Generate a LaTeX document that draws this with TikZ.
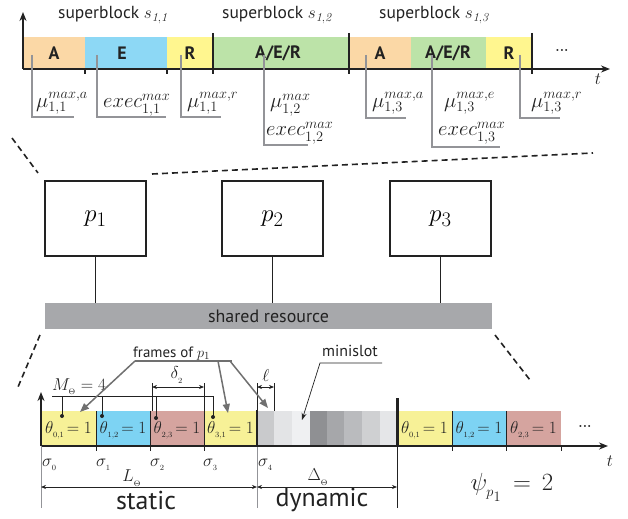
\documentclass[tikz,border=0pt]{standalone}
\usepackage{fontspec}
\newfontfamily\mysans{PT Sans}
\usetikzlibrary{arrows.meta}
\definecolor{cA}{HTML}{FBD8A6}
\definecolor{cE}{HTML}{8DD8F5}
\definecolor{cR}{HTML}{FFF68F}
\definecolor{cG}{HTML}{BCE3A8}
\definecolor{cY}{HTML}{F7F197}
\definecolor{cB}{HTML}{7DD3F3}
\definecolor{cP}{HTML}{D5A49F}
\definecolor{cBar}{HTML}{A7A8AB}
\definecolor{cLab}{HTML}{939498}
\definecolor{cArr}{HTML}{707070}
\definecolor{cDark}{HTML}{222222}
\definecolor{m1}{HTML}{C9CACC}
\definecolor{m2}{HTML}{E3E4E6}
\definecolor{m3}{HTML}{EFF0F2}
\definecolor{m4}{HTML}{8F9093}
\definecolor{m5}{HTML}{A6A7AA}
\definecolor{m6}{HTML}{BABBBE}
\definecolor{m7}{HTML}{CFD0D2}
\definecolor{m8}{HTML}{E5E6E8}
\begin{document}
\begin{tikzpicture}[x=1bp,y=-1bp,
  axis/.style={line width=1.6bp,cDark,-{Stealth[length=9bp,width=7bp]}},
  seglab/.style={font=\mysans\bfseries\fontsize{18}{18}\selectfont,cDark,inner sep=0},
  sbl/.style={font=\mysans\fontsize{17.5}{17.5}\selectfont,cDark,anchor=base west,inner sep=0},
  mlab/.style={font=\fontsize{20.5}{20.5}\selectfont,cDark,anchor=base west,inner sep=0},
  brk/.style={cLab,line width=1.3bp},
  tick/.style={line width=1.4bp,cDark},
  dashln/.style={line width=1.6bp,dash pattern=on 6bp off 4bp,cDark},
  pbox/.style={draw=cDark,line width=1.5bp,minimum width=101bp,minimum height=75bp,inner sep=0,font=\fontsize{32}{32}\selectfont},
  th/.style={font=\fontsize{17}{17}\selectfont,cDark,inner sep=0},
  sg/.style={font=\fontsize{17}{17}\selectfont,cDark,anchor=base west,inner sep=0},
  dim/.style={line width=0.7bp,cDark,{Stealth[length=5bp,width=4bp]}-{Stealth[length=5bp,width=4bp]}},
  thin/.style={line width=0.7bp,cDark},
  farr/.style={cArr,line width=1.5bp,-{Triangle[length=9bp,width=7bp]}},
  pin/.style={line width=0.8bp,cDark},
  big/.style={font=\mysans\fontsize{26}{26}\selectfont,cDark,inner sep=0}
]
\useasboundingbox (0,0) rectangle (628,519);

% ---------------- top timeline ----------------
\fill[cA] (23,37) rectangle (85,69);
\fill[cE] (85,37) rectangle (167,69);
\fill[cR] (167,37) rectangle (213,69);
\fill[cG] (213,37) rectangle (349,69);
\fill[cA] (349,37) rectangle (411,69);
\fill[cG] (411,37) rectangle (486,69);
\fill[cR] (486,37) rectangle (532,69);

\node[seglab] (tA1) at (54,53) {A};
\node[seglab] (tE1) at (122,53) {E};
\node[seglab] (tR1) at (190,53) {R};
\node[seglab] (tG2) at (278,53) {A/E/R};
\node[seglab] (tA3) at (380,53) {A};
\node[seglab] (tG3) at (448,53) {A/E/R};
\node[seglab] (tR3) at (509,53) {R};
\node[font=\bfseries\fontsize{14}{14}\selectfont,cDark] (tdots) at (562,50) {...};

\draw[axis] (23,69) -- (610,69);
\draw[axis] (23,69) -- (23,12);
\foreach \x in {85,167} \draw[tick] (\x,69) -- (\x,74);
\foreach \x in {213,349,532} \draw[tick] (\x,33) -- (\x,74);
\node[font=\fontsize{19}{19}\selectfont,cDark] (tt) at (598,79) {$t$};

\node[sbl] (sb1) at (58,19) {superblock $s_{\mathit{1,1}}$};
\node[sbl] (sb2) at (222,19) {superblock $s_{\mathit{1,2}}$};
\node[sbl] (sb3) at (379,19) {superblock $s_{\mathit{1,3}}$};

% brackets
\draw[brk] (32,55) -- (32,117) -- (74,117);
\draw[brk] (97,55) -- (97,117) -- (166,117);
\draw[brk] (181,55) -- (181,117) -- (221,117);
\draw[brk] (264,55) -- (264,145) -- (308,145);
\draw[brk] (366,55) -- (366,118) -- (406,118);
\draw[brk] (432,55) -- (432,147) -- (500,147);
\draw[brk] (520,55) -- (520,118) -- (560,118);

\node[mlab] (l1) at (36,108) {$\mu^{max,a}_{1,1}$};
\node[mlab] (l2) at (103,108) {$exec^{max}_{1,1}$};
\node[mlab] (l3) at (187,108) {$\mu^{max,r}_{1,1}$};
\node[mlab] (l4) at (270,108) {$\mu^{max}_{1,2}$};
\node[mlab] (l5) at (266,136) {$exec^{max}_{1,2}$};
\node[mlab] (l6) at (372,108) {$\mu^{max,a}_{1,3}$};
\node[mlab] (l7) at (444,108) {$\mu^{max,e}_{1,3}$};
\node[mlab] (l8) at (438,136) {$exec^{max}_{1,3}$};
\node[mlab] (l9) at (531,108) {$\mu^{max,r}_{1,3}$};

% ---------------- middle ----------------
\draw[dashln] (12,138) -- (38,173);
\draw[dashln] (152,174) -- (593,153);

\node[pbox] (p1) at (95.5,218.5) {$p_1$};
\node[pbox] (p2) at (272.5,218.5) {$p_2$};
\node[pbox] (p3) at (440.5,218.5) {$p_3$};
\node[fill=cBar,minimum width=447bp,minimum height=26bp,inner sep=0,
      font=\mysans\fontsize{18}{18}\selectfont,text=cDark] (bar) at (268.5,316) {shared resource};
\draw[line width=1.5bp,cDark] (p1.south) -- (p1.south |- bar.north);
\draw[line width=1.5bp,cDark] (p2.south) -- (p2.south |- bar.north);
\draw[line width=1.5bp,cDark] (p3.south) -- (p3.south |- bar.north);

\draw[dashln] (40,335) -- (18,387);
\draw[dashln] (495,335) -- (530,380);

% ---------------- bottom timeline ----------------
\fill[cY] (41,411) rectangle (96,446);
\fill[cB] (96,411) rectangle (150,446);
\fill[cP] (150,411) rectangle (204,446);
\fill[cY] (204,411) rectangle (257,446);
\fill[m1] (257,411) rectangle (274,446);
\fill[m2] (274,411) rectangle (292,446);
\fill[m3] (292,411) rectangle (310,446);
\fill[m4] (310,411) rectangle (327,446);
\fill[m5] (327,411) rectangle (344,446);
\fill[m6] (344,411) rectangle (362,446);
\fill[m7] (362,411) rectangle (380,446);
\fill[m8] (380,411) rectangle (397,446);
\fill[cY] (397,411) rectangle (452,446);
\fill[cB] (452,411) rectangle (506,446);
\fill[cP] (506,411) rectangle (561,446);

\foreach \x in {96,150,204,452,506} \draw[line width=0.9bp,cDark] (\x,411) -- (\x,451);
\draw[line width=0.9bp,cDark] (561,446) -- (561,451);

\node[th] (q1) at (68.5,430) {$\theta_{_{0,1}}\!=1$};
\node[th] (q2) at (123,430) {$\theta_{_{1,2}}\!=1$};
\node[th] (q3) at (177,430) {$\theta_{_{2,3}}\!=1$};
\node[th] (q4) at (230.5,430) {$\theta_{_{3,1}}\!=1$};
\node[th] (q5) at (424.5,430) {$\theta_{_{0,1}}\!=1$};
\node[th] (q6) at (479,430) {$\theta_{_{1,2}}\!=1$};
\node[th] (q7) at (533.5,430) {$\theta_{_{2,3}}\!=1$};
\node[font=\bfseries\fontsize{14}{14}\selectfont,cDark] (bdots) at (585,426) {...};

\draw[axis] (41,446) -- (608,446);
\draw[axis] (41,446) -- (41,392);
\node[font=\fontsize{19}{19}\selectfont,cDark] (bt) at (610,461) {$t$};

% verticals
\draw[line width=0.8bp,cLab] (41,446) -- (41,508);
\draw[line width=0.8bp,cLab] (257,446) -- (257,508);
\draw[line width=0.8bp,cDark] (397,446) -- (397,508);
\draw[thin] (257,383) -- (257,411);
\draw[line width=2.6bp,cDark] (257,410) -- (257,447);
\draw[line width=3bp,cDark] (397,398) -- (397,447);

% sigma labels
\node[sg] (s0) at (42,466) {$\sigma_{_0}$};
\node[sg] (s1) at (96,466) {$\sigma_{_1}$};
\node[sg] (s2) at (150,466) {$\sigma_{_2}$};
\node[sg] (s3) at (203,466) {$\sigma_{_3}$};
\node[sg] (s4) at (258,466) {$\sigma_{_4}$};

% dimensions
\draw[dim] (41,487) -- (257,487);
\draw[dim] (257,487) -- (397,487);
\node[th] (LT) at (132,478) {$L_{_\Theta}$};
\node[th] (DT) at (318,477) {$\Delta_{_\Theta}$};
\node[big] (st) at (146,500) {static};
\node[big] (dy) at (322,500) {dynamic};
\node[font=\fontsize{29}{29}\selectfont,cDark,inner sep=0] (psi) at (512,487) {$\psi_{_{p_1}}\,=\,2$};

\draw[thin] (152,383) -- (152,411);
\draw[thin] (204,383) -- (204,411);
\draw[dim] (152,387) -- (204,387);
\node[th] (d2) at (177,375) {$\delta_{_2}$};
\draw[thin] (274,383) -- (274,411);
\draw[dim] (257,387) -- (274,387);
\node[th] (ell) at (266,376) {$\ell$};

% M_Theta pins
\node[th,anchor=base west] (MT) at (52,390) {$M_{_\Theta}=4$};
\draw[pin] (52,396) -- (213,396);
\foreach \x/\y in {62/416,102/416,156/418,213/417}{
  \draw[pin] (\x,396) -- (\x,\y);
  \fill[cDark] (\x,\y) circle (2bp);
}

% frames of p1
\node[font=\mysans\fontsize{15}{15}\selectfont,cDark,anchor=base west,inner sep=0] (fr) at (133,357) {frames of $p_1$};
\draw[cArr,line width=1.5bp] (135,361) -- (232,361);
\draw[farr] (135,361) -- (80,412);
\draw[farr] (218,361) -- (228,413);
\draw[farr] (230,361) -- (268,408);

% minislot
\node[font=\mysans\fontsize{16}{16}\selectfont,cDark,anchor=base west,inner sep=0] (ms) at (322,356) {minislot};
\draw[thin,-{Stealth[length=7bp,width=5bp]}] (382,363) -- (320,363) -- (302,420);
\end{tikzpicture}
\end{document}
